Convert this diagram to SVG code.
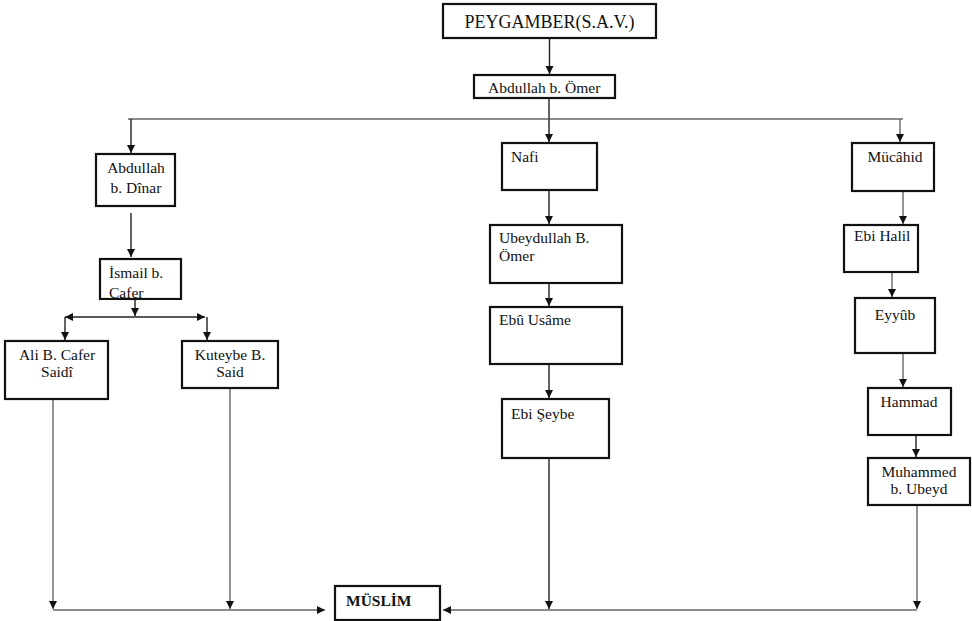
<svg xmlns="http://www.w3.org/2000/svg" width="972" height="621" viewBox="0 0 972 621">
<style>
  .box { fill: #ffffff; stroke: #111111; stroke-width: 2.2; }
  .t { font-family: "Liberation Serif", "Times New Roman", serif; font-size: 15.5px; fill: #111111; }
  .c { text-anchor: middle; }
  .big { font-size: 18px; }
  .bold { font-weight: bold; }
  .con path, .con line { fill: none; stroke: #222222; stroke-width: 1.4; }
  .con .g { stroke: #666666; }
</style>
<defs>
  <marker id="arr" markerUnits="userSpaceOnUse" markerWidth="9" markerHeight="9" refX="8" refY="4" orient="auto-start-reverse" viewBox="0 0 9 8">
    <path d="M0,0 L8,4 L0,8 z" fill="#111111"/>
  </marker>
</defs>

<g id="connectors" class="con">
  <line x1="549.5" y1="38" x2="549.5" y2="74" marker-end="url(#arr)"/>
  <line x1="549" y1="98" x2="549" y2="119"/>
  <line class="g" x1="128" y1="119" x2="903" y2="119"/>
  <line x1="131" y1="119" x2="131" y2="153" marker-end="url(#arr)"/>
  <line x1="549" y1="119" x2="549" y2="142" marker-end="url(#arr)"/>
  <line class="g" x1="900" y1="119" x2="900" y2="142" marker-end="url(#arr)"/>

  <line x1="131" y1="213" x2="131" y2="257" marker-end="url(#arr)"/>
  <line x1="135" y1="299" x2="135" y2="316" marker-end="url(#arr)"/>
  <line x1="65" y1="317" x2="205" y2="317" marker-start="url(#arr)" marker-end="url(#arr)"/>
  <line x1="65" y1="317" x2="65" y2="340" marker-end="url(#arr)"/>
  <line x1="207" y1="317" x2="207" y2="340" marker-end="url(#arr)"/>

  <line class="g" x1="53" y1="399" x2="53" y2="609" marker-end="url(#arr)"/>
  <line class="g" x1="230" y1="388" x2="230" y2="609" marker-end="url(#arr)"/>
  <line class="g" x1="53" y1="610" x2="325" y2="610" marker-end="url(#arr)"/>

  <line x1="549" y1="190" x2="549" y2="224" marker-end="url(#arr)"/>
  <line x1="549" y1="283" x2="549" y2="306" marker-end="url(#arr)"/>
  <line x1="549" y1="364" x2="549" y2="398" marker-end="url(#arr)"/>
  <line x1="549" y1="458" x2="549" y2="609" marker-end="url(#arr)"/>

  <line class="g" x1="903" y1="191" x2="903" y2="224" marker-end="url(#arr)"/>
  <line class="g" x1="892" y1="272" x2="892" y2="297" marker-end="url(#arr)"/>
  <line class="g" x1="903" y1="353" x2="903" y2="387" marker-end="url(#arr)"/>
  <line x1="916" y1="435" x2="916" y2="457" marker-end="url(#arr)"/>
  <line class="g" x1="917" y1="505" x2="917" y2="609" marker-end="url(#arr)"/>
  <line class="g" x1="917" y1="610" x2="443" y2="610" marker-end="url(#arr)"/>
</g>

<g id="peygamber">
  <rect class="box" x="443" y="4" width="213" height="34"/>
  <text class="t c big" x="549.5" y="28">PEYGAMBER(S.A.V.)</text>
</g>
<g id="abdullah-omer">
  <rect class="box" x="474" y="75" width="141" height="23"/>
  <text class="t" x="488" y="93">Abdullah b. Ömer</text>
</g>

<g id="abdullah-dinar">
  <rect class="box" x="96" y="154" width="79" height="52"/>
  <text class="t c" x="136" y="173">Abdullah</text>
  <text class="t c" x="136" y="193">b. Dînar</text>
</g>
<g id="ismail">
  <text class="t" x="109" y="278">İsmail b.</text>
  <text class="t" x="109" y="298">Cafer</text>
  <rect class="box" x="100" y="259" width="81" height="40" style="fill:none"/>
  <rect x="100" y="300.2" width="30" height="4" fill="#ffffff"/>
  <rect x="136" y="300.2" width="45" height="4" fill="#ffffff"/>
</g>
<g id="ali">
  <rect class="box" x="5" y="341" width="103" height="58"/>
  <text class="t c" x="57" y="360">Ali B. Cafer</text>
  <text class="t c" x="57" y="377">Saidî</text>
</g>
<g id="kuteybe">
  <rect class="box" x="182" y="341" width="96" height="47"/>
  <text class="t c" x="230" y="360">Kuteybe B.</text>
  <text class="t c" x="230" y="377">Said</text>
</g>

<g id="nafi">
  <rect class="box" x="502" y="143" width="95" height="47"/>
  <text class="t" x="511" y="162">Nafi</text>
</g>
<g id="ubeydullah">
  <rect class="box" x="490" y="225" width="132" height="58"/>
  <text class="t" x="499" y="243">Ubeydullah B.</text>
  <text class="t" x="499" y="261">Ömer</text>
</g>
<g id="ebu-usame">
  <rect class="box" x="490" y="307" width="132" height="57"/>
  <text class="t" x="499" y="325">Ebû Usâme</text>
</g>
<g id="ebi-seybe">
  <rect class="box" x="502" y="399" width="107" height="59"/>
  <text class="t" x="511" y="419">Ebi Şeybe</text>
</g>

<g id="mucahid">
  <rect class="box" x="852" y="143" width="82" height="48"/>
  <text class="t c" x="895" y="162">Mücâhid</text>
</g>
<g id="ebi-halil">
  <rect class="box" x="844" y="225" width="74" height="47"/>
  <text class="t" x="854" y="241">Ebi Halil</text>
</g>
<g id="eyyub">
  <rect class="box" x="855" y="298" width="80" height="55"/>
  <text class="t c" x="895" y="320">Eyyûb</text>
</g>
<g id="hammad">
  <rect class="box" x="868" y="388" width="83" height="47"/>
  <text class="t c" x="909" y="407">Hammad</text>
</g>
<g id="muhammed">
  <rect class="box" x="868" y="458" width="102" height="47"/>
  <text class="t c" x="919" y="477">Muhammed</text>
  <text class="t c" x="919" y="494">b. Ubeyd</text>
</g>

<g id="muslim">
  <rect class="box" x="335" y="586" width="105" height="34"/>
  <text class="t bold" x="346" y="606">MÜSLİM</text>
</g>
</svg>
